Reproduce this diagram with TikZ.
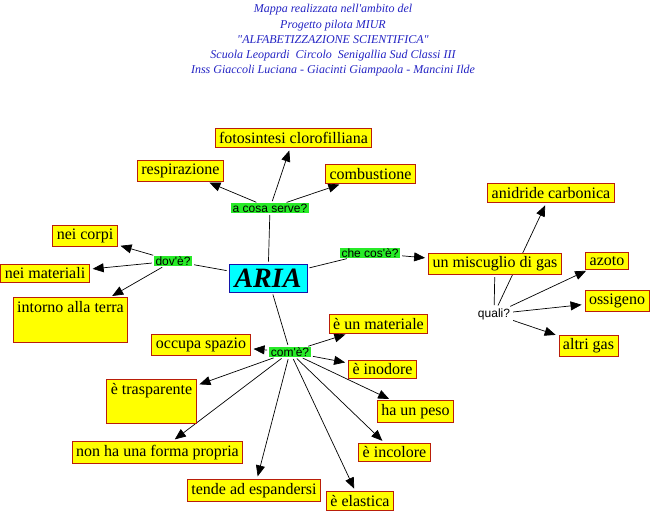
\documentclass[tikz,border=0pt]{standalone}
\usepackage{fontspec}
\setmainfont{Liberation Serif}
\newfontfamily\labelfont{Liberation Sans}
\usetikzlibrary{arrows.meta,backgrounds}
\definecolor{boxyellow}{RGB}{255,255,0}
\definecolor{boxred}{RGB}{185,30,10}
\definecolor{labelgreen}{RGB}{40,235,40}
\definecolor{ariacyan}{RGB}{0,255,255}
\definecolor{ariablue}{RGB}{20,20,170}
\definecolor{titleblue}{RGB}{35,35,195}
\tikzset{
	concept/.style={draw=boxred, fill=boxyellow, line width=0.9pt, inner xsep=4pt, inner ysep=3.5pt, font=\fontsize{16}{18}\selectfont},
	link/.style={fill=labelgreen, inner xsep=1.5pt, inner ysep=0.5pt, font=\labelfont\fontsize{12}{13}\selectfont},
	arrowline/.style={-{Triangle[length=11pt,width=9pt]}, line width=0.7pt, shorten <=2pt, shorten >=3pt},
	plainline/.style={line width=0.7pt, shorten <=2pt, shorten >=2pt}
}

\begin{document}
\begin{tikzpicture}[x=1pt, y=-1pt]
		%%%%% START %%%%%
		
		\useasboundingbox (0, 0) rectangle (651, 513);
		
		\node[text=titleblue, align=center, font=\itshape\fontsize{12}{15.2}\selectfont] (title) at (333, 40.5)
			{Mappa realizzata nell\textquotesingle ambito del\\Progetto pilota MIUR\\\textquotedbl ALFABETIZZAZIONE SCIENTIFICA\textquotedbl\\Scuola Leopardi\ \ Circolo\ \ Senigallia Sud Classi III\\Inss Giaccoli Luciana - Giacinti Giampaola - Mancini Ilde};
		
		\node[draw=ariablue, fill=ariacyan, line width=0.9pt, inner sep=0pt, minimum width=78pt, minimum height=28pt, font=\bfseries\itshape\fontsize{28}{30}\selectfont] (aria) at (268, 278) {ARIA};
		
		\node[link] (acosa) at (270, 208) {a cosa serve?};
		\node[link] (dove) at (173, 261) {dov\textquotesingle è?};
		\node[link] (checose) at (370, 253) {che cos\textquotesingle è?};
		\node[link] (comee) at (290, 352) {com\textquotesingle è?};
		\node[font=\labelfont\fontsize{12}{13}\selectfont, inner sep=1pt] (quali) at (494, 314) {quali?};
		
		\node[concept] (fotosintesi) at (293.5, 138) {fotosintesi clorofilliana};
		\node[concept] (respirazione) at (180.5, 170.5) {respirazione};
		\node[concept] (combustione) at (370.5, 174) {combustione};
		
		\node[concept] (corpi) at (85, 235.5) {nei corpi};
		\node[concept] (materiali) at (45, 273.5) {nei materiali};
		\node[concept, text depth=26pt] (intorno) at (70.5, 320) {intorno alla terra};
		
		\node[concept] (miscuglio) at (495, 264) {un miscuglio di gas};
		\node[concept] (anidride) at (551, 193) {anidride carbonica};
		\node[concept] (azoto) at (607, 261) {azoto};
		\node[concept] (ossigeno) at (617, 301) {ossigeno};
		\node[concept] (altri) at (588.5, 346) {altri gas};
		
		\node[concept] (unmateriale) at (378.5, 324) {è un materiale};
		\node[concept] (occupa) at (201, 344.5) {occupa spazio};
		\node[concept] (inodore) at (382.5, 369.5) {è inodore};
		\node[concept, text depth=25pt] (trasparente) at (151.5, 401.5) {è trasparente};
		\node[concept] (peso) at (415.5, 411.5) {ha un peso};
		\node[concept] (forma) at (157.5, 452.5) {non ha una forma propria};
		\node[concept] (incolore) at (394.5, 452.5) {è incolore};
		\node[concept] (tende) at (254, 490.5) {tende ad espandersi};
		\node[concept] (elastica) at (360, 501) {è elastica};
		
		\begin{scope}[on background layer]
			\draw[plainline] (aria) -- (acosa);
			\draw[plainline] (aria) -- (dove);
			\draw[plainline] (aria) -- (checose);
			\draw[plainline] (aria) -- (comee);
			
			\draw[arrowline] (acosa) -- (respirazione);
			\draw[arrowline] (acosa) -- (fotosintesi);
			\draw[arrowline] (acosa) -- (combustione);
			
			\draw[arrowline] (dove) -- (corpi);
			\draw[arrowline] (dove) -- (materiali);
			\draw[arrowline] (dove) -- (intorno);
			
			\draw[arrowline] (checose) -- (miscuglio);
			\draw[plainline] (miscuglio) -- (quali);
			\draw[arrowline] (quali) -- (anidride);
			\draw[arrowline] (quali) -- (azoto);
			\draw[arrowline] (quali) -- (ossigeno);
			\draw[arrowline] (quali) -- (altri);
			
			\foreach \target in {unmateriale, occupa, inodore, trasparente, peso, forma, incolore, tende, elastica}
				\draw[arrowline] (comee) -- (\target);
		\end{scope}
		
		%%%%% END %%%%%
\end{tikzpicture}
\end{document}
